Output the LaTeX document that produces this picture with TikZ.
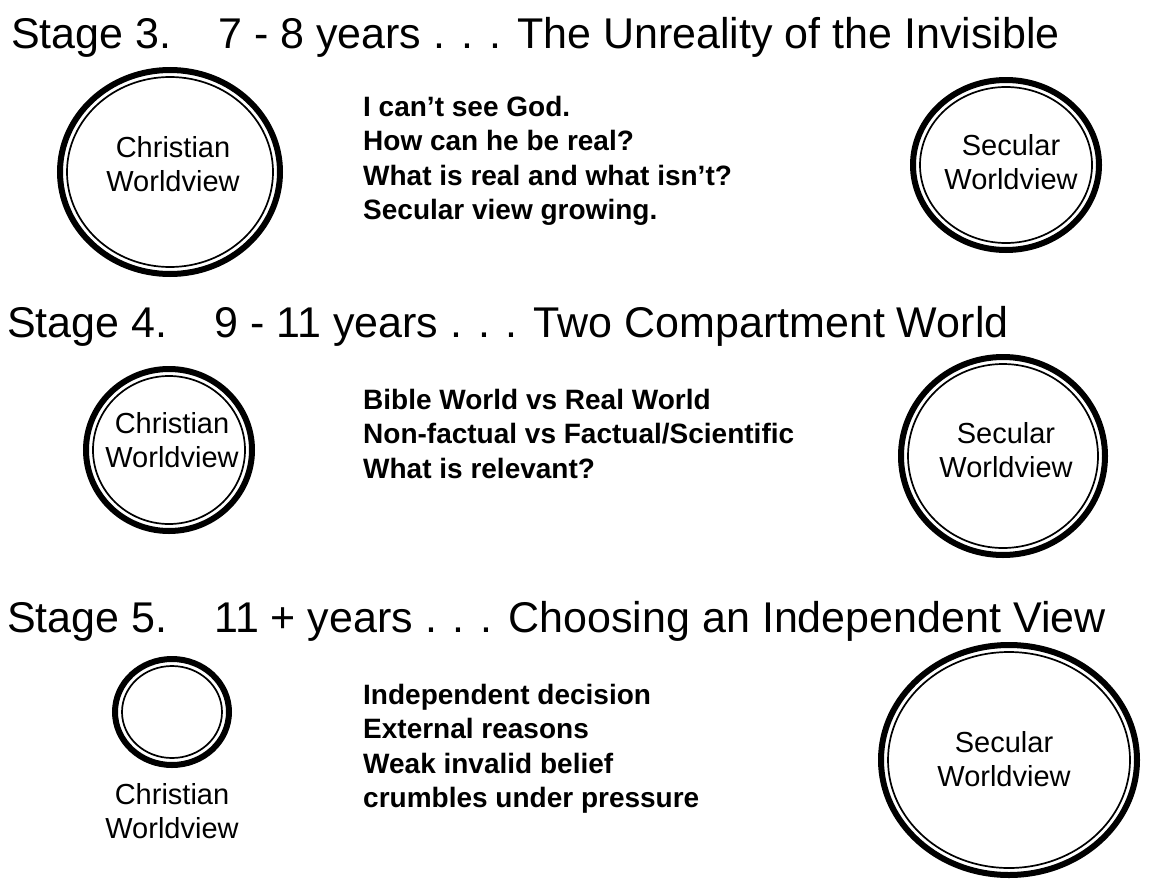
\documentclass[tikz,border=0pt]{standalone}
\usepackage{fontspec}
\setmainfont{Liberation Sans}
\usetikzlibrary{shapes.geometric,positioning}

\tikzset{
  rim/.style={ellipse, draw, line width=6pt, inner sep=0pt},
  ring/.style={ellipse, draw, line width=1.7pt, inner sep=0pt},
  heading/.style={anchor=base west, inner sep=0pt, font=\fontsize{43}{50}\selectfont},
  notes/.style={anchor=base west, inner sep=0pt, align=left, font=\fontsize{28}{34.5}\selectfont\bfseries},
  viewtext/.style={inner sep=0pt, align=center, font=\fontsize{29}{34}\selectfont},
}

\begin{document}
\begin{tikzpicture}[x=1pt,y=-1pt]
  \useasboundingbox (0,0) rectangle (1154,886);

  % stage 3
  \node[heading] (t3) at (11,48) {Stage 3.\hspace{47pt}7 - 8 years . . . The Unreality of the Invisible};
  \node[rim,  minimum width=220, minimum height=204] (c3) at (170,172) {};
  \node[ring, minimum width=206, minimum height=190] (c3i) at (c3) {};
  \node[viewtext] (c3t) at (173,164) {Christian\\Worldview};
  \node[notes] (n3) at (363,219.5) {I can’t see God.\\How can he be real?\\What is real and what isn’t?\\Secular view growing.};
  \node[rim,  minimum width=186, minimum height=170] (s3) at (1006,165) {};
  \node[ring, minimum width=172, minimum height=156] (s3i) at (s3) {};
  \node[viewtext] (s3t) at (1011,162) {Secular\\Worldview};

  % stage 4
  \node[heading] (t4) at (7,337) {Stage 4.\hspace{47pt}9 - 11 years . . . Two Compartment World};
  \node[rim,  minimum width=166, minimum height=162] (c4) at (169,450) {};
  \node[ring, minimum width=152, minimum height=148] (c4i) at (c4) {};
  \node[viewtext] (c4t) at (172,440) {Christian\\Worldview};
  \node[notes] (n4) at (363,478) {Bible World vs Real World\\Non-factual vs Factual/Scientific\\What is relevant?};
  \node[rim,  minimum width=204, minimum height=198] (s4) at (1003,456) {};
  \node[ring, minimum width=190, minimum height=184] (s4i) at (s4) {};
  \node[viewtext] (s4t) at (1006,450) {Secular\\Worldview};

  % stage 5
  \node[heading] (t5) at (7,632) {Stage 5.\hspace{47pt}11 + years . . . Choosing an Independent View};
  \node[rim,  minimum width=114, minimum height=106] (c5) at (172,712) {};
  \node[ring, minimum width=100, minimum height=92] (c5i) at (c5) {};
  \node[viewtext, below=15pt of c5] (c5t) {Christian\\Worldview};
  \node[notes] (n5) at (363,807.5) {Independent decision\\External reasons\\Weak invalid belief\\crumbles under pressure};
  \node[rim,  minimum width=256, minimum height=230] (s5) at (1009,760) {};
  \node[ring, minimum width=242, minimum height=216] (s5i) at (s5) {};
  \node[viewtext] (s5t) at (1004,759) {Secular\\Worldview};
\end{tikzpicture}
\end{document}
